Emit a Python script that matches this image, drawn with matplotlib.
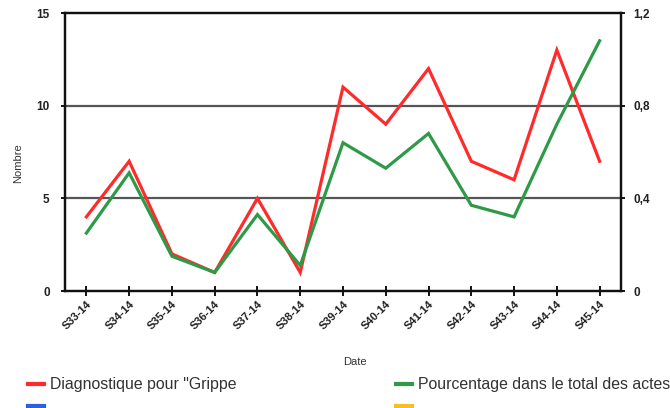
import matplotlib
matplotlib.use("Agg")
import matplotlib.pyplot as plt
from matplotlib.lines import Line2D

plt.rcParams['font.family'] = ['Liberation Sans', 'DejaVu Sans']

weeks = ["S33-14", "S34-14", "S35-14", "S36-14", "S37-14", "S38-14", "S39-14",
         "S40-14", "S41-14", "S42-14", "S43-14", "S44-14", "S45-14"]
grippe = [4, 7, 2, 1, 5, 1, 11, 9, 12, 7, 6, 13, 7]
pourcentage = [0.25, 0.51, 0.15, 0.08, 0.33, 0.11, 0.64, 0.53, 0.68, 0.37, 0.32, 0.72, 1.08]
left_ticks = [0, 5, 10, 15]
right_ticks = [0, 0.4, 0.8, 1.2]
right_labels = ["0", "0,4", "0,8", "1,2"]

RED = "#ff2a2a"
GREEN = "#2e9a48"

fig = plt.figure(figsize=(6.7, 4.08), dpi=100)
ax = fig.add_axes([65 / 670, 1 - 291 / 408, 556 / 670, 278 / 408])
ax2 = ax.twinx()

x = list(range(len(weeks)))
ax.plot(x, grippe, color=RED, lw=2.3, solid_joinstyle="miter", zorder=3)
ax2.plot(x, pourcentage, color=GREEN, lw=2.3, solid_joinstyle="miter", zorder=3)

ax.set_xlim(-0.5, len(weeks) - 0.5)
ax.set_ylim(0, 15)
ax2.set_ylim(0, 1.2)
ax.set_yticks(left_ticks)
ax2.set_yticks(right_ticks)
ax2.set_yticklabels(right_labels)
ax.set_xticks(x)
ax.set_xticklabels(weeks, rotation=45, ha="right", rotation_mode="anchor")

for v in (5, 10):
    ax.axhline(v, color="#555555", lw=1.6, zorder=1)

for a in (ax, ax2):
    for s in a.spines.values():
        s.set_linewidth(1.6)
        s.set_color("#111111")

ax.tick_params(axis="x", direction="inout", length=7, width=1.3, labelsize=8, pad=2,
               labelcolor="#222222")
ax.tick_params(axis="y", direction="out", length=3, width=1.3, labelsize=8.5,
               labelcolor="#222222", pad=8)
ax2.tick_params(axis="y", direction="out", length=3, width=1.3, labelsize=8.5,
                labelcolor="#222222", pad=6)
for lbl in ax.get_xticklabels() + ax.get_yticklabels() + ax2.get_yticklabels():
    lbl.set_fontweight("bold")

fig.text(18 / 670, 1 - 163 / 408, "Nombre", fontsize=8, color="#333333",
         rotation=90, ha="center", va="center")
fig.text(355 / 670, 1 - 362 / 408, "Date", fontsize=8, color="#333333", ha="center", va="center")

# legend drawn by hand at the bottom
legend = [
    (28, 384, RED, "Diagnostique pour \"Grippe"),
    (396, 384, GREEN, "Pourcentage dans le total des actes"),
    (28, 406, "#2f5fe0", ""),
    (396, 406, "#f5c020", ""),
]
for px, py, col, txt in legend:
    yy = 1 - py / 408
    fig.add_artist(Line2D([px / 670, (px + 16) / 670], [yy, yy], color=col, lw=3,
                          transform=fig.transFigure))
    if txt:
        fig.text((px + 22) / 670, yy, txt, fontsize=11.4, color="#333333", va="center")

fig.savefig("out.png", dpi=100)
